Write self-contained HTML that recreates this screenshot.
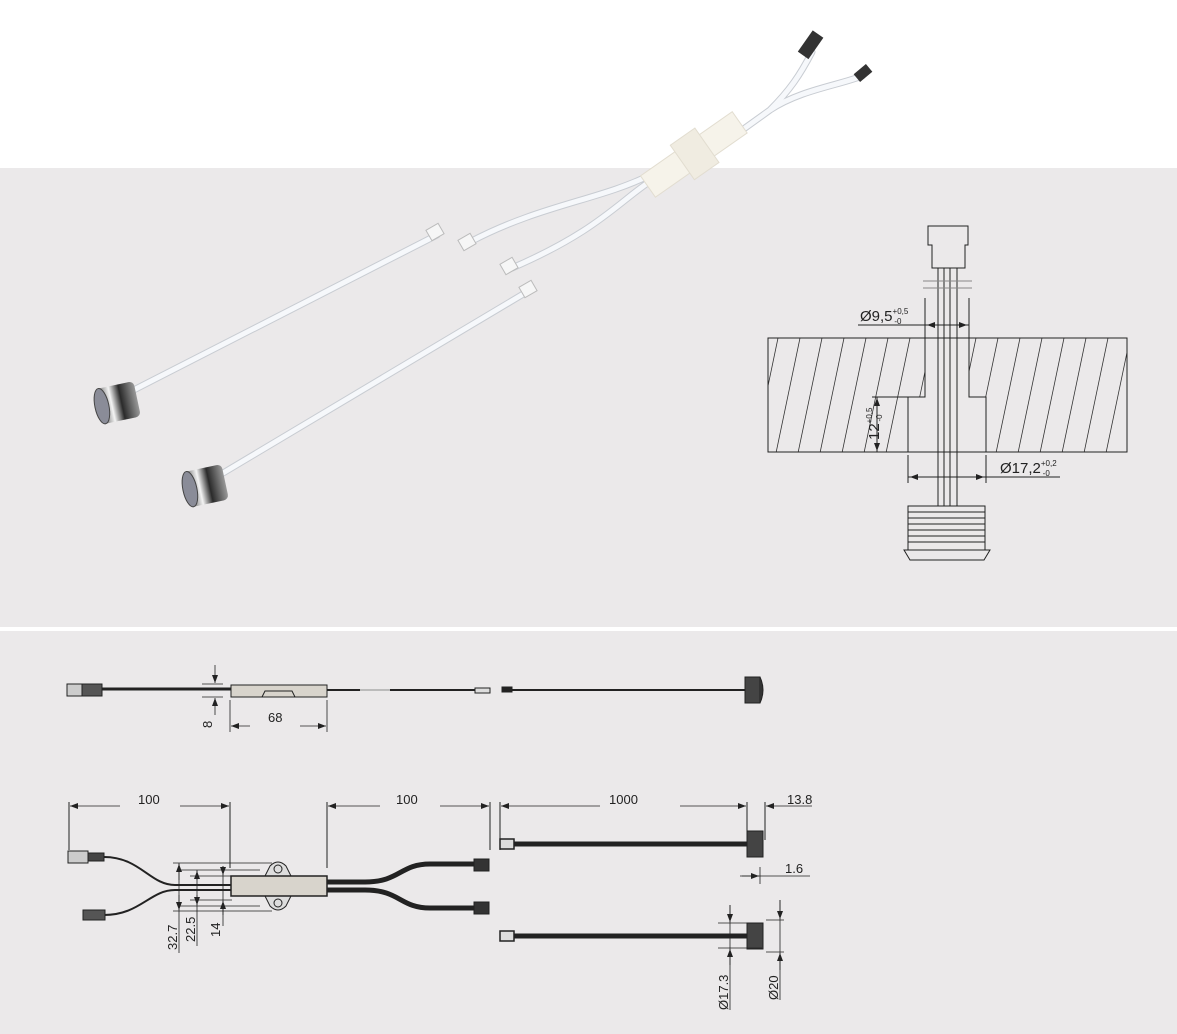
<!DOCTYPE html>
<html><head><meta charset="utf-8"><style>
html,body{margin:0;padding:0;background:#fff}
svg{display:block}
text{font-family:"Liberation Sans",sans-serif;fill:#222}
</style></head><body>
<svg width="1177" height="1034" viewBox="0 0 1177 1034" xmlns="http://www.w3.org/2000/svg">
<defs>
<pattern id="h" width="22" height="115" patternUnits="userSpaceOnUse" x="768" y="338">
<line x1="-14" y1="115" x2="10" y2="0" stroke="#333" stroke-width="0.8"/>
<line x1="8" y1="115" x2="32" y2="0" stroke="#333" stroke-width="0.8"/>
</pattern>
<linearGradient id="m" x1="0" y1="0" x2="1" y2="0">
<stop offset="0" stop-color="#444"/><stop offset="0.35" stop-color="#f4f4f4"/><stop offset="0.6" stop-color="#2a2a2a"/><stop offset="1" stop-color="#999"/>
</linearGradient>
<marker id="a" markerWidth="8" markerHeight="6" refX="8" refY="3" orient="auto-start-reverse" markerUnits="userSpaceOnUse"><path d="M0,0 L8,3 L0,6z" fill="#222"/></marker>
</defs>
<rect x="0" y="168" width="1177" height="459" fill="#ebe9ea"/>
<rect x="0" y="631" width="1177" height="403" fill="#ebe9ea"/>

<!-- photo -->
<g stroke-linecap="round" fill="none">
<g stroke="#c8ccd2" stroke-width="7">
<path d="M812,52 C800,75 790,90 770,110 M862,76 C840,85 800,90 770,110 L745,128"/>
<path d="M650,175 C600,200 540,205 470,242 M655,178 C620,200 600,230 512,268"/>
<path d="M437,235 L118,398 M530,290 L208,482"/>
</g>
<g stroke="#f6f8fb" stroke-width="5">
<path d="M812,52 C800,75 790,90 770,110 M862,76 C840,85 800,90 770,110 L745,128"/>
<path d="M650,175 C600,200 540,205 470,242 M655,178 C620,200 600,230 512,268"/>
<path d="M437,235 L118,398 M530,290 L208,482"/>
</g>
</g>
<rect x="798" y="38" width="26" height="13" fill="#333" transform="rotate(-55 811 45)"/>
<rect x="855" y="68" width="16" height="10" fill="#333" transform="rotate(-40 863 73)"/>
<g transform="rotate(-35 693 155)"><rect x="638" y="142" width="112" height="26" fill="#f6f3ea" stroke="#e2ddd0"/><rect x="680" y="134" width="30" height="42" fill="#f0ece1" stroke="#e2ddd0"/></g>
<g fill="#f6f6f6" stroke="#bbb">
<rect x="428" y="226" width="14" height="12" transform="rotate(-30 435 232)"/>
<rect x="460" y="236" width="14" height="12" transform="rotate(-30 467 242)"/>
<rect x="502" y="260" width="14" height="12" transform="rotate(-30 509 266)"/>
<rect x="521" y="283" width="14" height="12" transform="rotate(-30 528 289)"/>
</g>
<g transform="rotate(-12 117 405)"><rect x="98" y="385" width="40" height="36" rx="5" fill="url(#m)"/><ellipse cx="102" cy="403" rx="7" ry="18" fill="#8a8c98" stroke="#444"/></g>
<g transform="rotate(-12 205 488)"><rect x="186" y="468" width="40" height="36" rx="5" fill="url(#m)"/><ellipse cx="190" cy="486" rx="7" ry="18" fill="#8a8c98" stroke="#444"/></g>

<!-- section drawing -->
<g stroke="#222" stroke-width="1" fill="none">
<rect x="768" y="338" width="359" height="114" fill="url(#h)"/>
<rect x="925" y="338" width="44" height="60" fill="#ebe9ea" stroke="none"/>
<rect x="908" y="397" width="78" height="55" fill="#ebe9ea" stroke="none"/>
<path d="M768,338 H1127 V452 H768Z"/>
<path d="M925,338 V397 H908 V452 M969,338 V397 H986 V452"/>
<path d="M928,226 H968 V245 H965 V268 H932 V245 H928Z" fill="#ebe9ea"/>
<path d="M938,268 V506 M944,268 V506 M950,268 V506 M957,268 V506"/>
<path d="M923,281 H972 M923,288 H972" stroke="#888"/>
<path d="M858,325 H969 M925,298 V338 M969,298 V338"/>
<path d="M908,455 V483 M986,455 V483 M908,477 H1060"/>
<path d="M877,397 V452 M872,397 H908"/>
<path d="M908,506 H985 V550 H908Z M908,512 H985 M908,518 H985 M908,524 H985 M908,530 H985 M908,536 H985 M908,542 H985" fill="#ebe9ea"/>
<path d="M904,550 H990 L984,560 H910Z" fill="#ebe9ea"/>
</g>
<g stroke="#222" stroke-width="0.8">
<line x1="938" y1="325" x2="927" y2="325" marker-end="url(#a)"/>
<line x1="957" y1="325" x2="967" y2="325" marker-end="url(#a)"/>
<line x1="877" y1="410" x2="877" y2="398" marker-end="url(#a)"/>
<line x1="877" y1="440" x2="877" y2="451" marker-end="url(#a)"/>
<line x1="925" y1="477" x2="910" y2="477" marker-end="url(#a)"/>
<line x1="970" y1="477" x2="984" y2="477" marker-end="url(#a)"/>
</g>
<text x="860" y="321" font-size="15">Ø9,5<tspan font-size="8" dy="-7">+0,5</tspan><tspan font-size="8" dx="-14" dy="10">-0</tspan></text>
<text x="1000" y="473" font-size="15">Ø17,2<tspan font-size="8" dy="-7">+0,2</tspan><tspan font-size="8" dx="-14" dy="10">-0</tspan></text>
<text transform="translate(879,440) rotate(-90)" font-size="15">12<tspan font-size="8" dy="-7">+0,5</tspan><tspan font-size="8" dx="-14" dy="10">-0</tspan></text>

<!-- bottom row 1 -->
<g stroke="#222" fill="none" stroke-width="1">
<rect x="67" y="684" width="24" height="12" fill="#ccc"/>
<rect x="82" y="684" width="20" height="12" fill="#555"/>
<line x1="102" y1="689" x2="231" y2="689" stroke-width="3"/>
<rect x="231" y="685" width="96" height="12" fill="#d8d4cc"/>
<path d="M262,697 L265,691 H292 L295,697"/>
<line x1="327" y1="690" x2="360" y2="690" stroke-width="2"/>
<line x1="360" y1="690" x2="390" y2="690" stroke="#bbb" stroke-width="2"/>
<line x1="390" y1="690" x2="475" y2="690" stroke-width="2"/>
<rect x="475" y="688" width="15" height="5" fill="#ddd"/>
<rect x="502" y="687" width="10" height="5" fill="#222"/>
<line x1="512" y1="690" x2="745" y2="690" stroke-width="2"/>
<rect x="745" y="677" width="15" height="26" fill="#444"/>
<path d="M760,677 Q766,690 760,703" fill="#333"/>
<path d="M202,684 H223 M202,697 H223 M230,700 V732 M327,700 V732" stroke-width="0.8"/>
</g>
<g stroke="#222" stroke-width="0.8">
<line x1="215" y1="665" x2="215" y2="683" marker-end="url(#a)"/>
<line x1="215" y1="715" x2="215" y2="698" marker-end="url(#a)"/>
<line x1="250" y1="726" x2="231" y2="726" marker-end="url(#a)"/>
<line x1="300" y1="726" x2="326" y2="726" marker-end="url(#a)"/>
</g>
<text x="268" y="722" font-size="13">68</text>
<text transform="translate(212,728) rotate(-90)" font-size="13">8</text>

<!-- bottom row 2 -->
<g stroke="#222" fill="none" stroke-width="1">
<path d="M69,802 V850 M230,802 V868 M327,802 V868 M490,802 V850 M500,802 V850 M747,802 V840 M765,802 V840"/>
<rect x="68" y="851" width="20" height="12" fill="#ccc"/><rect x="88" y="853" width="16" height="8" fill="#444"/>
<path d="M104,857 C140,857 150,885 175,885 H231" stroke-width="2"/>
<path d="M104,915 C140,915 150,890 175,890 H231" stroke-width="2"/>
<rect x="83" y="910" width="22" height="10" fill="#555"/>
<path d="M265,876 L270,866 Q278,858 286,866 L291,876 Z M265,896 L270,906 Q278,914 286,906 L291,896Z" fill="#ddd"/>
<circle cx="278" cy="869" r="4"/><circle cx="278" cy="903" r="4"/>
<rect x="231" y="876" width="96" height="20" fill="#d8d4cc" stroke-width="1.5"/>
<path d="M327,882 H365 C400,882 400,864 430,864 H477 M327,890 H365 C400,890 400,908 430,908 H477" stroke-width="5"/>
<rect x="474" y="859" width="15" height="12" fill="#333"/><rect x="474" y="902" width="15" height="12" fill="#333"/>
<rect x="500" y="839" width="14" height="10" fill="#ddd" stroke-width="1.5"/>
<line x1="514" y1="844" x2="747" y2="844" stroke-width="5"/>
<rect x="747" y="831" width="16" height="26" fill="#444"/>
<rect x="500" y="931" width="14" height="10" fill="#ddd" stroke-width="1.5"/>
<line x1="514" y1="936" x2="747" y2="936" stroke-width="5"/>
<rect x="747" y="923" width="16" height="26" fill="#444"/>
<g stroke-width="0.8">
<path d="M173,863 H272 M178,870 H260 M190,876 H232 M190,900 H232 M178,906 H260 M173,911 H272"/>
<path d="M179,863 V953 M197,870 V946 M223,866 V926"/>
<path d="M742,876 H810 M760,867 V884"/>
<path d="M718,923 H762 M718,948 H762 M730,905 V1010 M766,920 H784 M766,952 H784 M780,900 V1000"/>
</g>
</g>
<g stroke="#222" stroke-width="0.8">
<line x1="120" y1="806" x2="70" y2="806" marker-end="url(#a)"/>
<line x1="180" y1="806" x2="229" y2="806" marker-end="url(#a)"/>
<line x1="380" y1="806" x2="328" y2="806" marker-end="url(#a)"/>
<line x1="440" y1="806" x2="489" y2="806" marker-end="url(#a)"/>
<line x1="600" y1="806" x2="501" y2="806" marker-end="url(#a)"/>
<line x1="680" y1="806" x2="746" y2="806" marker-end="url(#a)"/>
<line x1="812" y1="806" x2="766" y2="806" marker-end="url(#a)"/>
<line x1="740" y1="876" x2="759" y2="876" marker-end="url(#a)"/>
<line x1="179" y1="880" x2="179" y2="864" marker-end="url(#a)"/>
<line x1="179" y1="895" x2="179" y2="910" marker-end="url(#a)"/>
<line x1="197" y1="880" x2="197" y2="871" marker-end="url(#a)"/>
<line x1="197" y1="895" x2="197" y2="905" marker-end="url(#a)"/>
<line x1="223" y1="866" x2="223" y2="875" marker-end="url(#a)"/>
<line x1="223" y1="915" x2="223" y2="901" marker-end="url(#a)"/>
<line x1="730" y1="905" x2="730" y2="922" marker-end="url(#a)"/>
<line x1="730" y1="965" x2="730" y2="949" marker-end="url(#a)"/>
<line x1="780" y1="900" x2="780" y2="919" marker-end="url(#a)"/>
<line x1="780" y1="970" x2="780" y2="953" marker-end="url(#a)"/>
</g>
<g font-size="13">
<text x="138" y="804">100</text>
<text x="396" y="804">100</text>
<text x="609" y="804">1000</text>
<text x="787" y="804">13.8</text>
<text x="785" y="873">1.6</text>
<text transform="translate(177,950) rotate(-90)">32.7</text>
<text transform="translate(195,942) rotate(-90)">22.5</text>
<text transform="translate(220,937) rotate(-90)">14</text>
<text transform="translate(728,1010) rotate(-90)">Ø17.3</text>
<text transform="translate(778,1000) rotate(-90)">Ø20</text>
</g>
</svg>
</body></html>
